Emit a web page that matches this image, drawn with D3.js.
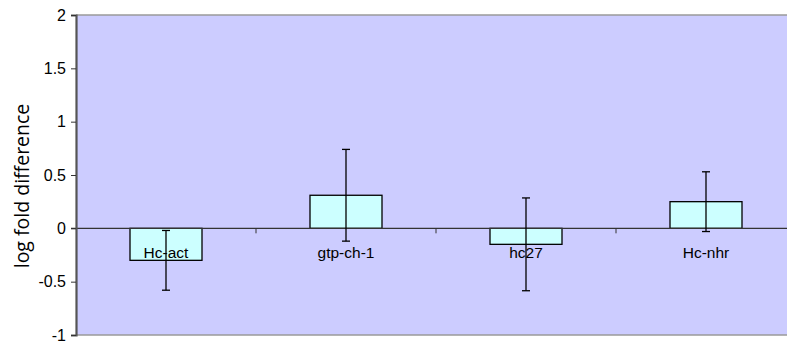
<!DOCTYPE html>
<html>
<head>
<meta charset="utf-8">
<script src="https://cdn.jsdelivr.net/npm/d3@7"></script>
<style>
  html, body { margin: 0; padding: 0; background: #ffffff; }
  svg { display: block; }
</style>
</head>
<body>
<svg id="chart" width="787" height="344"></svg>
<script>
// Gene expression: log fold difference with error bars
const categories = ["Hc-act", "gtp-ch-1", "hc27", "Hc-nhr"];
const values = [-0.30, 0.31, -0.15, 0.25];
const errors = [0.28, 0.43, 0.435, 0.28];
const yTicks = [-1, -0.5, 0, 0.5, 1, 1.5, 2];
const yTickLabels = ["-1", "-0.5", "0", "0.5", "1", "1.5", "2"];
const yTitle = "log fold difference";

const svg = d3.select("#chart");

// plot area (right edge runs past the window)
const plotLeft = 76, plotTop = 15, plotBottom = 335, plotRight = 796;

const x = d3.scaleBand()
  .domain(categories)
  .range([plotLeft, plotRight])
  .paddingInner(0.6)
  .paddingOuter(0.3);

const xOuter = d3.scaleBand().domain(categories).range([plotLeft, plotRight]);

const y = d3.scaleLinear().domain([-1, 2]).range([plotBottom, plotTop]);

// plot background
svg.append("rect")
  .attr("x", plotLeft).attr("y", plotTop)
  .attr("width", plotRight - plotLeft).attr("height", plotBottom - plotTop)
  .attr("fill", "#ccccff");

// top and bottom frame lines
svg.append("line")
  .attr("x1", plotLeft).attr("x2", plotRight)
  .attr("y1", plotTop).attr("y2", plotTop)
  .attr("stroke", "#9a9a9a").attr("stroke-width", 1.5);
svg.append("line")
  .attr("x1", plotLeft).attr("x2", plotRight)
  .attr("y1", plotBottom).attr("y2", plotBottom)
  .attr("stroke", "#9a9a9a").attr("stroke-width", 1.5);

// bars
svg.selectAll("rect.bar")
  .data(categories)
  .enter().append("rect")
  .attr("class", "bar")
  .attr("x", d => x(d))
  .attr("width", x.bandwidth())
  .attr("y", (d, i) => y(Math.max(0, values[i])))
  .attr("height", (d, i) => Math.abs(y(values[i]) - y(0)))
  .attr("fill", "#ccffff")
  .attr("stroke", "#000")
  .attr("stroke-width", 1.3);

// zero line (category axis)
svg.append("line")
  .attr("x1", plotLeft - 5).attr("x2", plotRight)
  .attr("y1", y(0)).attr("y2", y(0))
  .attr("stroke", "#333").attr("stroke-width", 1.2);

// category ticks between groups
svg.selectAll("line.ctick")
  .data(categories.slice(1))
  .enter().append("line")
  .attr("class", "ctick")
  .attr("x1", d => xOuter(d)).attr("x2", d => xOuter(d))
  .attr("y1", y(0)).attr("y2", y(0) + 5)
  .attr("stroke", "#333").attr("stroke-width", 1);

// category labels
svg.selectAll("text.clabel")
  .data(categories)
  .enter().append("text")
  .attr("class", "clabel")
  .attr("x", d => xOuter(d) + xOuter.bandwidth() / 2)
  .attr("y", y(0) + 30)
  .attr("text-anchor", "middle")
  .attr("font-family", "Liberation Sans, Arial, sans-serif")
  .attr("font-size", 15.5)
  .attr("fill", "#000")
  .text(d => d);

// error bars
const cap = 4;
const eb = svg.selectAll("g.err")
  .data(categories)
  .enter().append("g")
  .attr("class", "err")
  .attr("stroke", "#000")
  .attr("stroke-width", 1.3);
eb.append("line")
  .attr("x1", d => x(d) + x.bandwidth() / 2)
  .attr("x2", d => x(d) + x.bandwidth() / 2)
  .attr("y1", (d, i) => y(values[i] + errors[i]))
  .attr("y2", (d, i) => y(values[i] - errors[i]));
eb.append("line")
  .attr("x1", d => x(d) + x.bandwidth() / 2 - cap)
  .attr("x2", d => x(d) + x.bandwidth() / 2 + cap)
  .attr("y1", (d, i) => y(values[i] + errors[i]))
  .attr("y2", (d, i) => y(values[i] + errors[i]));
eb.append("line")
  .attr("x1", d => x(d) + x.bandwidth() / 2 - cap)
  .attr("x2", d => x(d) + x.bandwidth() / 2 + cap)
  .attr("y1", (d, i) => y(values[i] - errors[i]))
  .attr("y2", (d, i) => y(values[i] - errors[i]));

// value axis
const yAxis = d3.axisLeft(y)
  .tickValues(yTicks)
  .tickFormat((d, i) => yTickLabels[i])
  .tickSize(5)
  .tickPadding(5);
const ga = svg.append("g")
  .attr("transform", `translate(${plotLeft},0)`)
  .call(yAxis);
ga.select(".domain")
  .attr("stroke", "#555").attr("stroke-width", 2.2);
ga.selectAll(".tick line").attr("stroke", "#333").attr("stroke-width", 1);
ga.selectAll(".tick text")
  .attr("font-family", "Liberation Sans, Arial, sans-serif")
  .attr("font-size", 16)
  .attr("fill", "#000");

// axis title
svg.append("text")
  .attr("transform", `translate(29, ${(plotTop + plotBottom) / 2 + 11}) rotate(-90)`)
  .attr("text-anchor", "middle")
  .attr("font-family", "Open Sans, sans-serif")
  .attr("font-size", 19.5)
  .attr("fill", "#000")
  .text(yTitle);
</script>
</body>
</html>
